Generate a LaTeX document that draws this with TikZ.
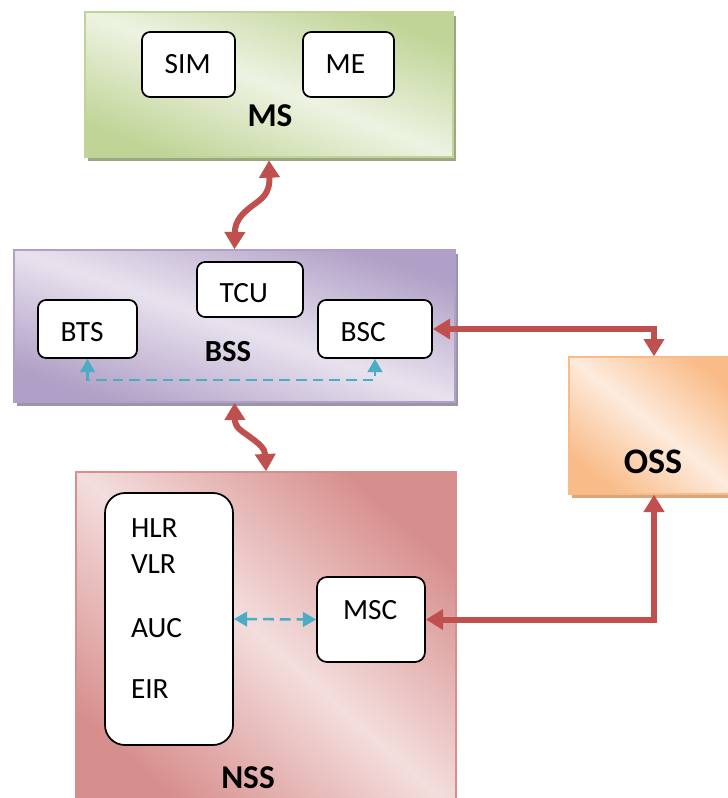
\documentclass[tikz,border=0pt]{standalone}
\usepackage{fontspec}
\setmainfont{Carlito}
\usetikzlibrary{arrows.meta,shadows}

\definecolor{msdark}{HTML}{C0D497}
\definecolor{mslight}{HTML}{EDF3E2}
\definecolor{msshadow}{HTML}{9DA784}
\definecolor{bssdark}{HTML}{B09FC6}
\definecolor{bsslight}{HTML}{E8E2EE}
\definecolor{bssshadow}{HTML}{9C94A7}
\definecolor{nssdark}{HTML}{D78F8D}
\definecolor{nsslight}{HTML}{F3DEDD}
\definecolor{ossdark}{HTML}{F9BC89}
\definecolor{osslight}{HTML}{FDEBDD}
\definecolor{ossshadow}{HTML}{D8A67B}
\definecolor{linkred}{HTML}{C0504D}
\definecolor{linkblue}{HTML}{4BACC6}

\begin{document}
\begin{tikzpicture}[x=0.75pt,y=-0.75pt,
  bigbox/.style={line width=1pt, inner sep=0pt},
  shadefill/.style n args={3}{draw=#1, top color=#1, bottom color=#1,
    middle color=#2, shading angle=#3},
  boxshadow/.style={general shadow={fill=#1, shadow xshift=2.5pt, shadow yshift=-3pt}},
  unit/.style={draw=black, fill=white, line width=1.3pt, rounded corners=6pt,
    inner xsep=17pt, inner ysep=0pt, align=left,
    font=\fontsize{22}{26.4}\selectfont},
  biglabel/.style={inner sep=0pt, font=\bfseries\fontsize{25}{30}\selectfont},
  redlink/.style={draw=linkred, line width=4.5pt,
    {Triangle[width=15pt,length=13pt]}-{Triangle[width=15pt,length=13pt]}},
  bluelink/.style={draw=linkblue, line width=1.9pt, dash pattern=on 8pt off 4.5pt,
    {Triangle[width=11pt,length=10pt]}-{Triangle[width=11pt,length=10pt]}}]

\useasboundingbox (0,0) rectangle (727,798);

% subsystems
\node[bigbox, boxshadow=msshadow, shadefill={msdark}{mslight}{-21.5},
  minimum width=276pt, minimum height=108.75pt] (MS) at (269,84.5) {};
\node[bigbox, boxshadow=bssshadow, shadefill={bssdark}{bsslight}{-19},
  minimum width=330.75pt, minimum height=114pt] (BSS) at (234.5,326) {};
\node[bigbox, shadefill={nssdark}{nsslight}{-42},
  minimum width=285pt, minimum height=253.5pt] (NSS) at (266,641) {};
\node[bigbox, boxshadow=ossshadow, shadefill={ossdark}{osslight}{-39},
  minimum width=127.5pt, minimum height=102.75pt] (OSS) at (654,425.5) {};

% subsystem names
\node[biglabel] (MSname) at (270,116) {MS};
\node[biglabel, font=\bfseries\fontsize{23}{28}\selectfont] (BSSname) at (228,352) {BSS};
\node[biglabel] (NSSname) at (248,778) {NSS};
\node[biglabel, font=\bfseries\fontsize{27}{32}\selectfont] (OSSname) at (653,462) {OSS};

% units
\node[unit, text width=35.75pt, minimum height=48.75pt] (SIM) at (188.5,64.5) {SIM};
\node[unit, text width=34.25pt, minimum height=48.75pt] (ME) at (348.5,64.5) {ME};
\node[unit, text width=45.5pt, minimum height=41.25pt, text height=19pt] (TCU) at (250,289.5) {TCU};
\node[unit, text width=40.25pt, minimum height=43.5pt, text height=18.4pt] (BTS) at (87.5,329) {BTS};
\node[unit, text width=51.5pt, minimum height=43.5pt, text height=18.4pt] (BSC) at (375,329) {BSC};
\node[unit, inner xsep=19.5pt, text width=42pt, minimum height=63.75pt,
  rounded corners=7.5pt, text depth=14pt] (MSC) at (371,619.5) {MSC};
\node[unit, inner xsep=19.5pt, text width=57pt, minimum height=189pt,
  rounded corners=15pt] (DB) at (169,619)
  {HLR\\VLR\\[21.6pt]AUC\\[20pt]EIR\rule[-15pt]{0pt}{15pt}};

% links
\draw[redlink] ([yshift=-2pt]MS.south) .. controls (270,195) and (261,199) .. (252,206)
  .. controls (243,213) and (235,220) .. (BSS.north);
\draw[redlink] (BSS.south) .. controls (235,428) and (242,431) .. (250,437)
  .. controls (258,443) and (265,448) .. (NSS.north);
\draw[redlink] (BSC.east) -| (OSS.north);
\draw[redlink] (MSC.east) -| (OSS.south);

\draw[bluelink] (BTS.south) -- ++(0,21) -| (BSC.south);
\draw[bluelink] (DB.east) -- (MSC.west);

\end{tikzpicture}
\end{document}
